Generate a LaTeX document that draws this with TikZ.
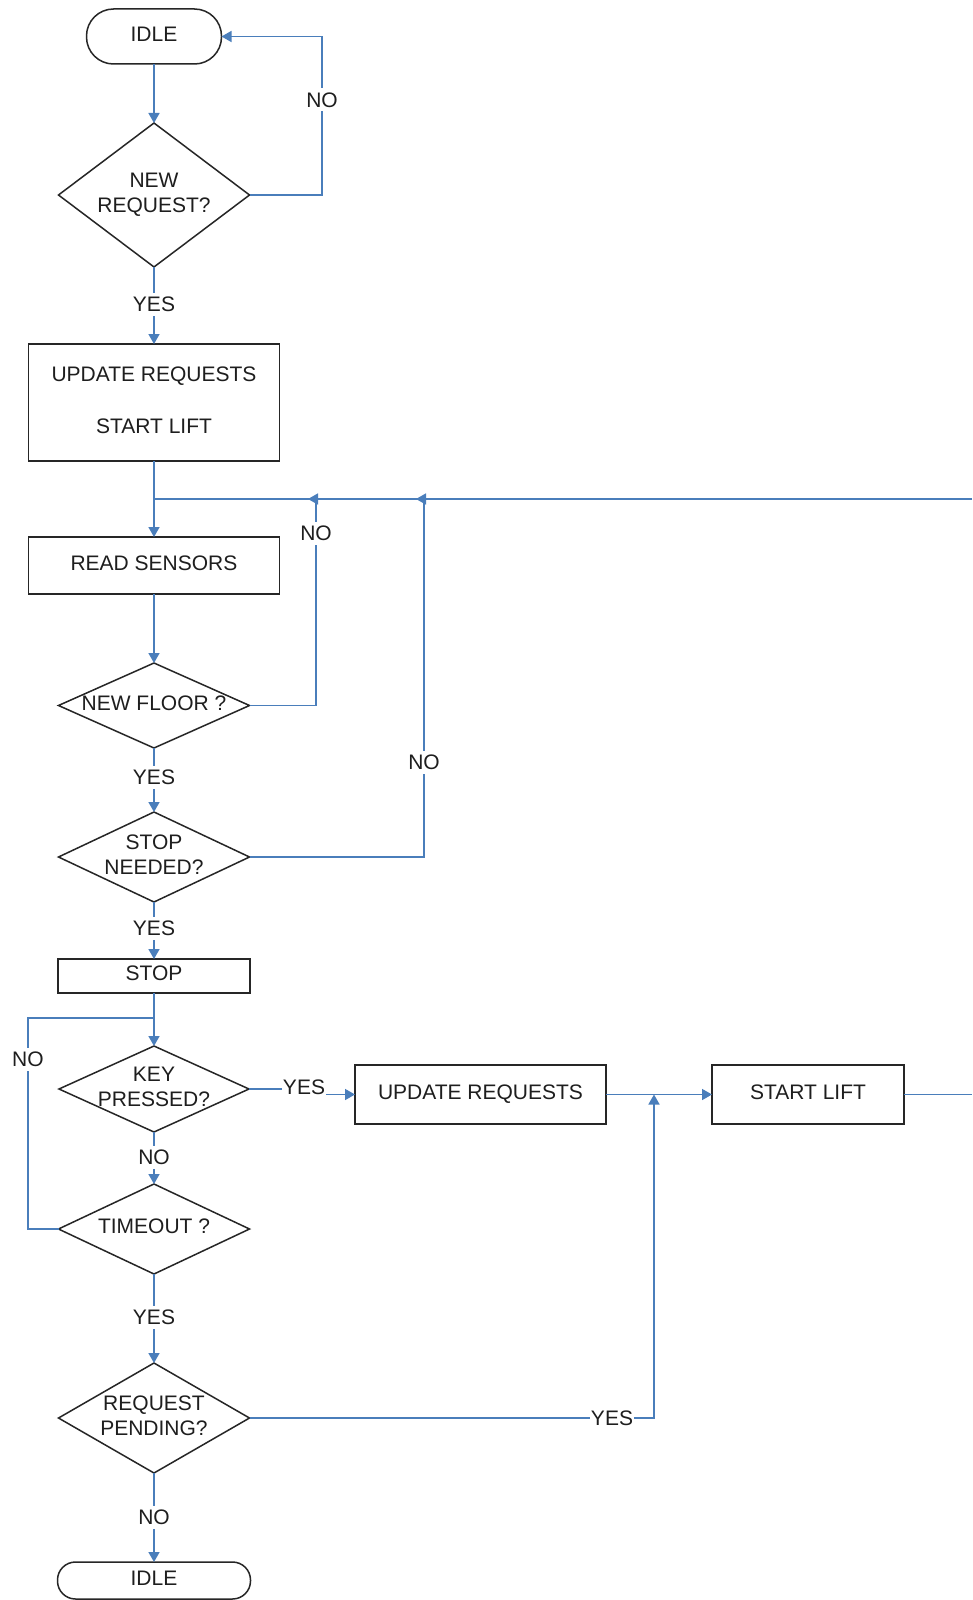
\documentclass[tikz,border=0pt]{standalone}
\usepackage{fontspec}
\setmainfont{Liberation Sans}
\usetikzlibrary{shapes.geometric,arrows.meta}
\definecolor{lineblue}{RGB}{74,126,187}
\definecolor{txtcol}{RGB}{30,30,30}
\newcommand{\dtext}[1]{\smash{\raisebox{-0.24em}{\makebox[0pt]{\begin{tabular}{@{}c@{}}#1\end{tabular}}}}}
\begin{document}
\begin{tikzpicture}[x=1pt,y=-1pt,
  every node/.style={font=\fontsize{21}{25}\selectfont, text=txtcol},
  boxnode/.style={draw=black!85, line width=1.5pt, rectangle, inner sep=0pt, outer sep=0pt},
  termnode/.style={draw=black!85, line width=1.5pt, rectangle, inner sep=0pt, outer sep=0pt},
  decnode/.style={draw=black!85, line width=1.5pt, diamond, inner sep=0pt, outer sep=0pt},
  conn/.style={draw=lineblue, line width=1.6pt},
  arrowed/.style={-{Triangle[length=10pt,width=11pt]}},
  lbl/.style={fill=white, inner xsep=1pt, inner ysep=4pt, text height=15pt, text depth=0pt}
]
\path[use as bounding box, fill=white] (0,0) rectangle (972,1600);

% nodes
\node[termnode, rounded corners=27pt, minimum width=135pt, minimum height=55pt] (idle1) at (154,36.5) {\dtext{IDLE}};
\node[decnode, minimum width=191pt, minimum height=144pt] (d1) at (154,195) {\dtext{NEW\\REQUEST?}};
\node[boxnode, minimum width=251pt, minimum height=117pt] (box1) at (154,402.5) {\dtext{UPDATE REQUESTS\\[27pt]START LIFT}};
\node[boxnode, minimum width=251pt, minimum height=57pt] (rs) at (154,565.5) {\dtext{READ SENSORS}};
\node[decnode, minimum width=191pt, minimum height=85pt] (nf) at (154,705.5) {\dtext{NEW FLOOR ?}};
\node[decnode, minimum width=191pt, minimum height=90pt] (sn) at (154,857) {\dtext{STOP\\NEEDED?}};
\node[boxnode, minimum width=192pt, minimum height=34pt] (stop) at (154,976) {\dtext{STOP}};
\node[decnode, minimum width=190pt, minimum height=86pt] (kp) at (154,1089) {\dtext{KEY\\PRESSED?}};
\node[boxnode, minimum width=251pt, minimum height=59pt] (ur) at (480.5,1094.5) {\dtext{UPDATE REQUESTS}};
\node[boxnode, minimum width=192pt, minimum height=59pt] (sl) at (808,1094.5) {\dtext{START LIFT}};
\node[decnode, minimum width=191pt, minimum height=90pt] (to) at (154,1229) {\dtext{TIMEOUT ?}};
\node[decnode, minimum width=191pt, minimum height=110pt] (rp) at (154,1418) {\dtext{REQUEST\\PENDING?}};
\node[termnode, rounded corners=18pt, minimum width=193pt, minimum height=37pt] (idle2) at (154,1580.5) {\dtext{IDLE}};

% coordinates
\coordinate (j1) at (154,499);
\coordinate (c1) at (316,499);
\coordinate (c2) at (424,499);
\coordinate (e2) at (972,499);
\coordinate (j2) at (154,1018);
\coordinate (c3) at (28,1018);
\coordinate (c4) at (654,1094.5);
\coordinate (e1) at (972,1094.5);

% connectors
\draw[conn, arrowed] (idle1.south) -- (d1.north);
\draw[conn, arrowed] (d1.east) -- ++(72.5,0) |- (idle1.east);
\draw[conn, arrowed] (d1.south) -- (box1.north);
\draw[conn, arrowed] (box1.south) -- (rs.north);
\draw[conn] (e2) -- (j1);
\draw[conn, arrowed] (rs.south) -- (nf.north);
\draw[conn, arrowed] (nf.east) -| (c1) -- ++(-8,0);
\draw[conn, arrowed] (nf.south) -- (sn.north);
\draw[conn, arrowed] (sn.east) -| (c2) -- ++(-8,0);
\draw[conn, arrowed] (sn.south) -- (stop.north);
\draw[conn, arrowed] (stop.south) -- (kp.north);
\draw[conn] (to.west) -| (c3) -- (j2);
\draw[conn, arrowed] (kp.east) -- ++(55,0) |- (ur.west);
\draw[conn, arrowed] (ur.east) -- (sl.west);
\draw[conn] (sl.east) -- (e1);
\draw[conn, arrowed] (kp.south) -- (to.north);
\draw[conn, arrowed] (to.south) -- (rp.north);
\draw[conn, arrowed] (rp.east) -| (c4);
\draw[conn, arrowed] (rp.south) -- (idle2.north);

% labels
\node[lbl] (l1) at (322,100) {NO};
\node[lbl] (l2) at (154,304) {YES};
\node[lbl] (l3) at (316,533) {NO};
\node[lbl] (l4) at (154,777) {YES};
\node[lbl] (l5) at (424,762) {NO};
\node[lbl] (l6) at (154,928) {YES};
\node[lbl] (l7) at (28,1059) {NO};
\node[lbl] (l8) at (304,1087) {YES};
\node[lbl] (l9) at (154,1157) {NO};
\node[lbl] (l10) at (154,1317) {YES};
\node[lbl] (l11) at (612,1418) {YES};
\node[lbl] (l12) at (154,1517) {NO};
\end{tikzpicture}
\end{document}
